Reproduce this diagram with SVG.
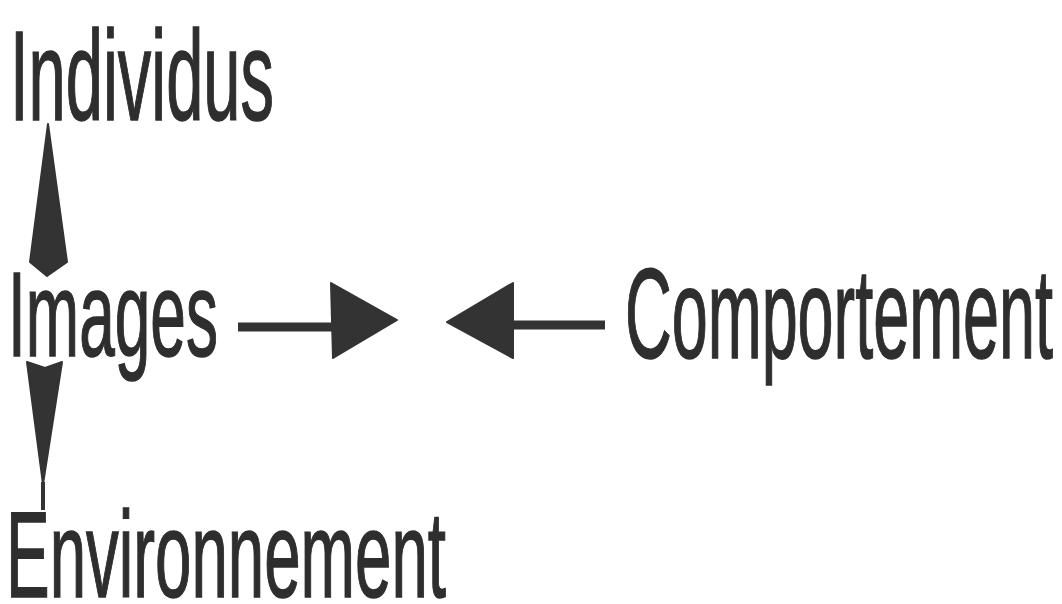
<svg xmlns="http://www.w3.org/2000/svg" width="1062" height="604" viewBox="0 0 1062 604">
<style>
.t{font-family:"Liberation Sans",Arial,sans-serif;fill:#2e2e2e;stroke:#2e2e2e;stroke-width:1.5;}
.a{fill:#333;stroke:#333;stroke-width:2;stroke-linejoin:round;}
.s{stroke:#333;stroke-width:9;fill:none;}
</style>
<rect width="1062" height="604" fill="#fff"/>
<g id="node-individus"><text class="t" x="10" y="120" font-size="128" textLength="264" lengthAdjust="spacingAndGlyphs">Individus</text></g>
<g id="node-images"><text class="t" x="8" y="356" font-size="120" textLength="210" lengthAdjust="spacingAndGlyphs">Images</text></g>
<g id="node-comportement"><text class="t" x="625" y="358" font-size="128" textLength="428" lengthAdjust="spacingAndGlyphs">Comportement</text></g>
<g id="node-environnement"><text class="t" x="6" y="597" font-size="122" textLength="440" lengthAdjust="spacingAndGlyphs">Environnement</text></g>
<g id="connectors">
<polygon class="a" points="48,124 67,262 47,276 30,262"/>
<polygon class="a" points="27,362 45,368 62,362 43,484"/>
<line class="s" x1="43" y1="482" x2="43" y2="510" style="stroke-width:4"/>
<line class="s" x1="238" y1="327" x2="334" y2="327"/>
<polygon class="a" points="331,283 397,320 333,358"/>
<line class="s" x1="510" y1="325" x2="605" y2="325"/>
<polygon class="a" points="513,283 447,322 513,358"/>
</g>
</svg>
